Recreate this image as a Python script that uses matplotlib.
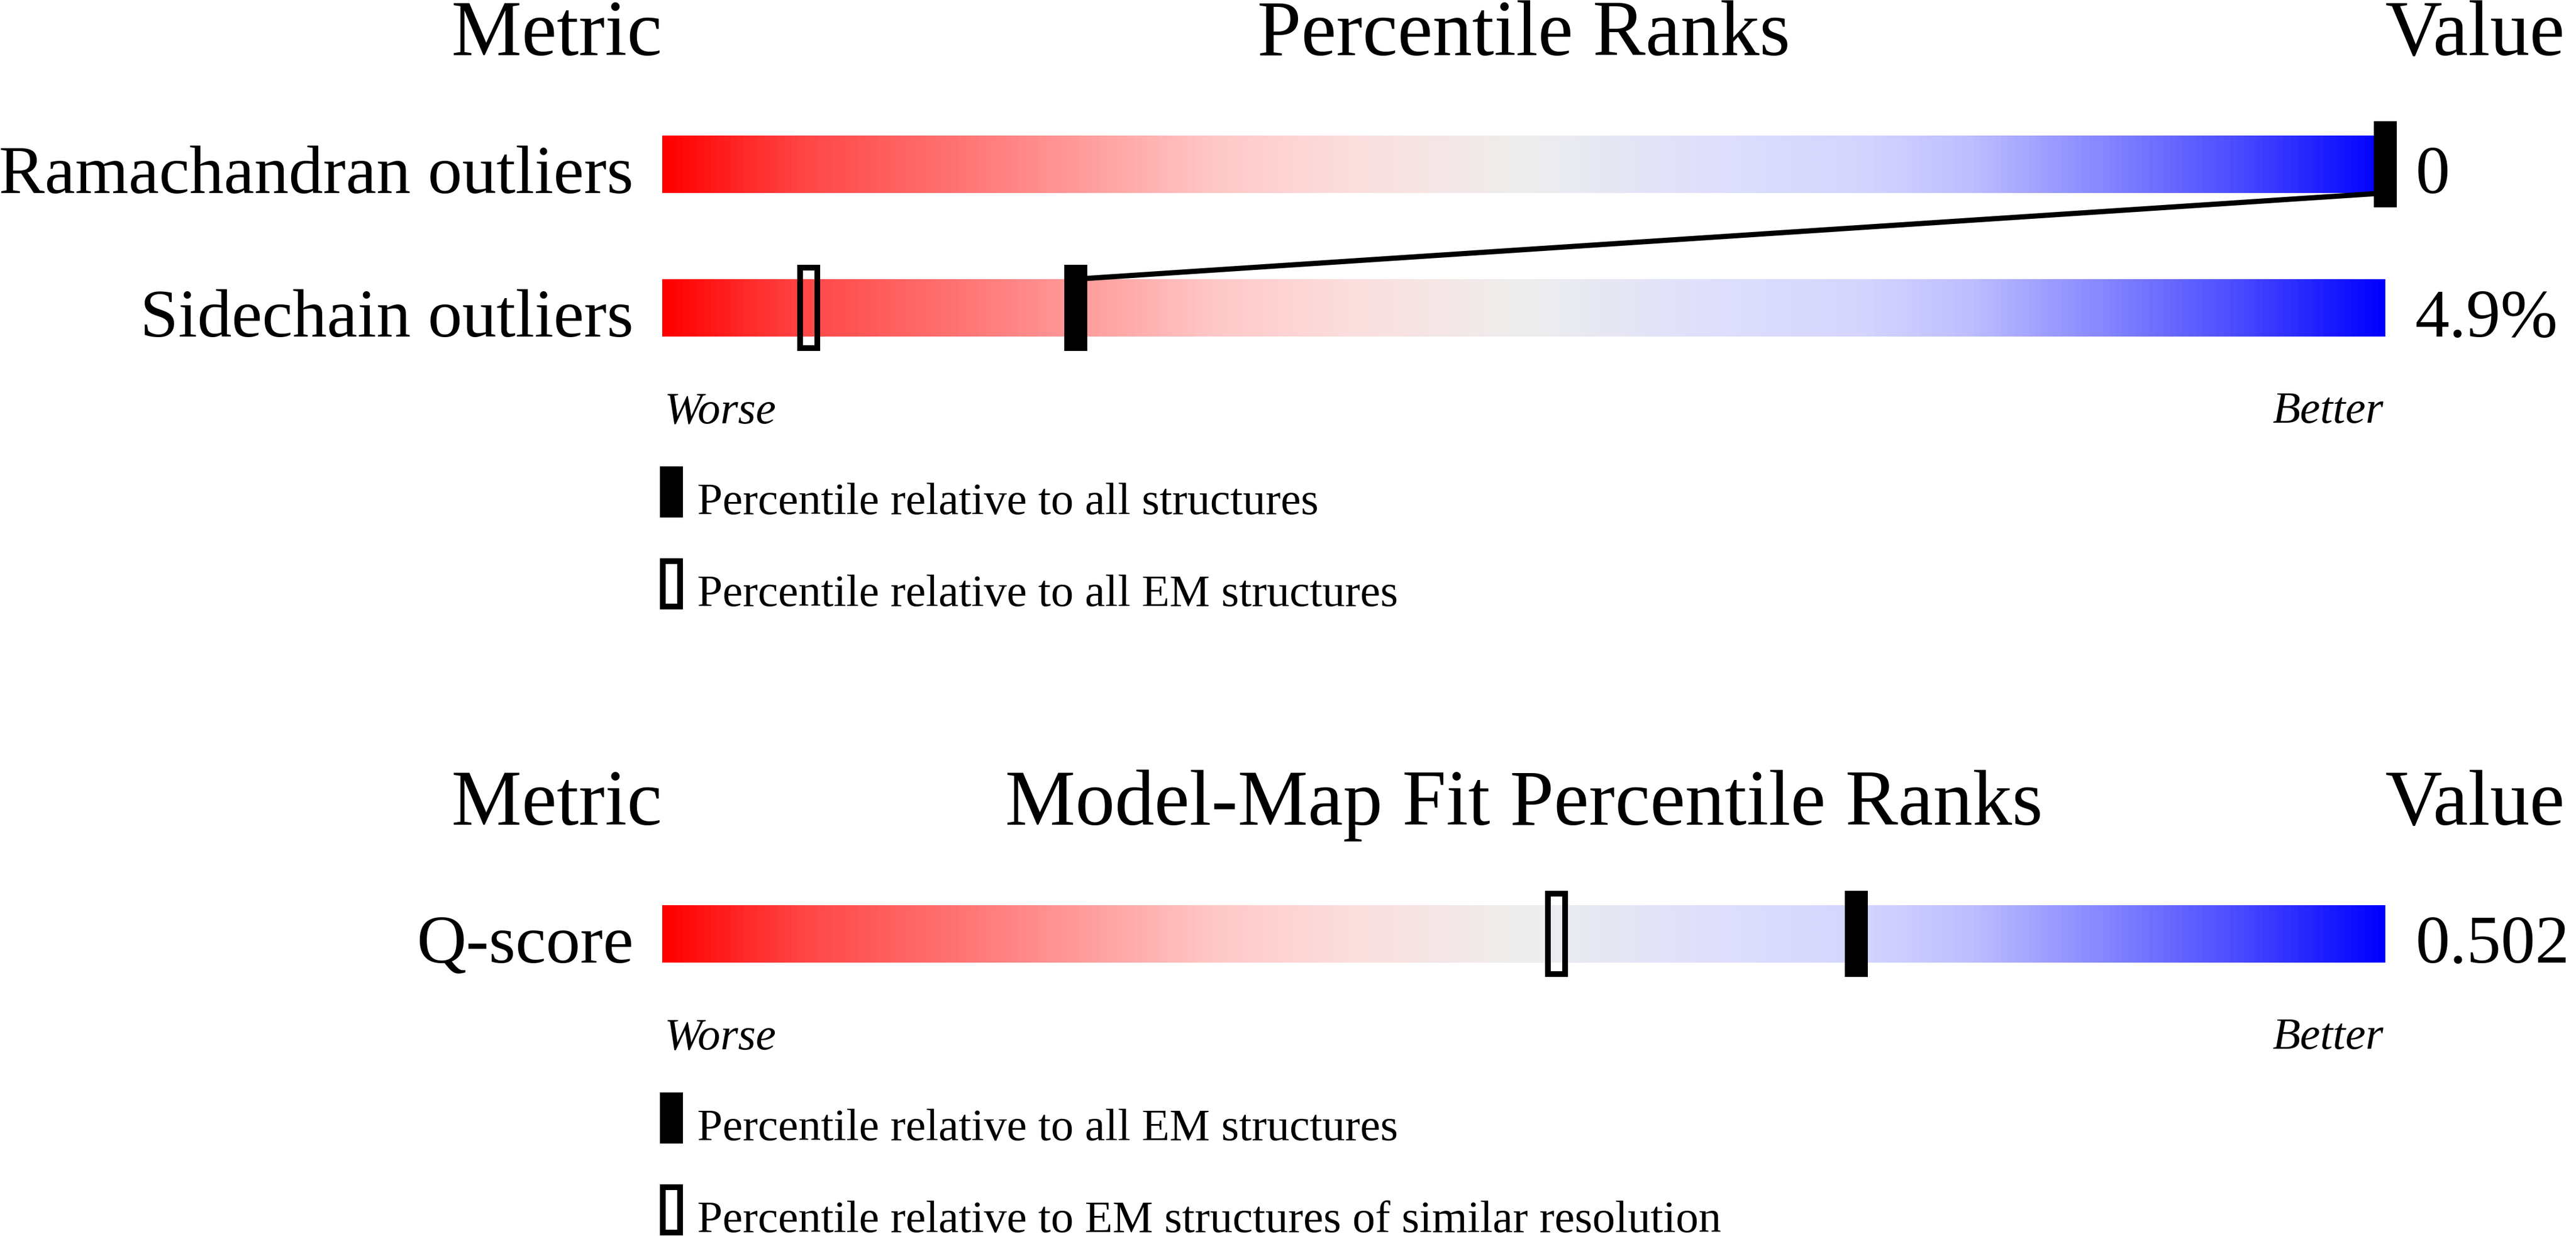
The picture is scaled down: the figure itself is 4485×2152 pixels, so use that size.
import numpy as np
import matplotlib.pyplot as plt
from matplotlib.colors import LinearSegmentedColormap
from matplotlib.patches import Rectangle

plt.rcParams['font.family'] = ['Liberation Serif', 'DejaVu Serif']

W, H = 4485, 2152          # output size in px (dpi 100)
BAR_L, BAR_W = 1153, 3000  # slider left edge / width in px
PX = BAR_W / 100.0         # px per percentile point

# top panel
title1 = "Percentile Ranks"
metrics1 = ["Ramachandran outliers", "Sidechain outliers"]
values1 = ["0", "4.9%"]
pct_all1 = [100, 24]       # filled marker
pct_em1 = [100, 8.5]       # hollow marker
legend1 = ["Percentile relative to all structures",
           "Percentile relative to all EM structures"]

# bottom panel
title2 = "Model-Map Fit Percentile Ranks"
metrics2 = ["Q-score"]
values2 = ["0.502"]
pct_all2 = [69.3]
pct_em2 = [51.9]
legend2 = ["Percentile relative to all EM structures",
           "Percentile relative to EM structures of similar resolution"]

# slider colours, worse (red) -> better (blue)
grad_pos = [0.0, 0.08, 0.17, 0.25, 0.32, 0.40, 0.50, 0.60, 0.70, 0.76, 0.83, 0.91, 1.0]
grad_rgb = [(255, 0, 0), (255, 70, 70), (255, 115, 115), (255, 160, 160), (255, 200, 200),
            (252, 222, 222), (238, 238, 238), (224, 224, 252), (212, 212, 255),
            (190, 190, 255), (140, 140, 255), (80, 80, 255), (0, 0, 255)]
cmap = LinearSegmentedColormap.from_list(
    "slider", [(p, tuple(c / 255 for c in rgb)) for p, rgb in zip(grad_pos, grad_rgb)])

fig = plt.figure(figsize=(W / 100, H / 100), dpi=100)
ax = fig.add_axes([0, 0, 1, 1])


def px(x):
    # pixel column -> percentile units of the axes
    return (x - BAR_L) / PX


def marker(p, ymid, filled, h=150):
    w = 40 / PX
    if filled:
        ax.add_patch(Rectangle((p - w / 2, ymid - h / 2), w, h, fc='black', ec='none', zorder=5))
    else:
        wi = 30 / PX
        ax.add_patch(Rectangle((p - wi / 2, ymid - (h - 10) / 2), wi, h - 10, fc='none',
                               ec='black', lw=7.2, zorder=4))


def panel(base, title, metrics, values, pct_all, pct_em, legend):
    ax.text(0, base, "Metric", ha='right', va='baseline', fontsize=99)
    ax.text(50, base, title, ha='center', va='baseline', fontsize=99)
    ax.text(100, base, "Value", ha='left', va='baseline', fontsize=99)
    grad = cmap(np.linspace(0, 1, 1000))[None, :, :]
    prev = None
    for i, (m, v) in enumerate(zip(metrics, values)):
        top = base + 140 + 250 * i
        bot = top + 100
        ax.imshow(grad, extent=(0, 100, bot, top), aspect='auto', interpolation='bilinear', zorder=1)
        ax.text(px(BAR_L - 50), bot, m, ha='right', va='baseline', fontsize=86)
        ax.text(px(BAR_L + BAR_W + 52), bot, v, ha='left', va='baseline', fontsize=86)
        marker(pct_em[i], top + 50, False)
        marker(pct_all[i], top + 50, True)
        if prev is not None:
            ax.plot([prev[0], pct_all[i]], [prev[1], top], color='black', lw=6.5,
                    solid_capstyle='butt', zorder=3)
        prev = (pct_all[i], bot)
    ax.text(px(BAR_L + 4), bot + 150, "Worse", ha='left', va='baseline', fontsize=57, style='italic')
    ax.text(px(BAR_L + BAR_W - 3), bot + 150, "Better", ha='right', va='baseline', fontsize=57, style='italic')
    for j, lab in enumerate(legend):
        ymid = bot + 270 + 160 * j
        marker(px(1169), ymid, j == 0, h=89)
        ax.text(px(1214), bot + 309 + 160 * j, lab, ha='left', va='baseline', fontsize=57)


panel(96, title1, metrics1, values1, pct_all1, pct_em1, legend1)
panel(1436, title2, metrics2, values2, pct_all2, pct_em2, legend2)

ax.set_xlim(px(0), px(W))
ax.set_ylim(H, 0)
ax.axis('off')

fig.savefig("out.png", dpi=100)
